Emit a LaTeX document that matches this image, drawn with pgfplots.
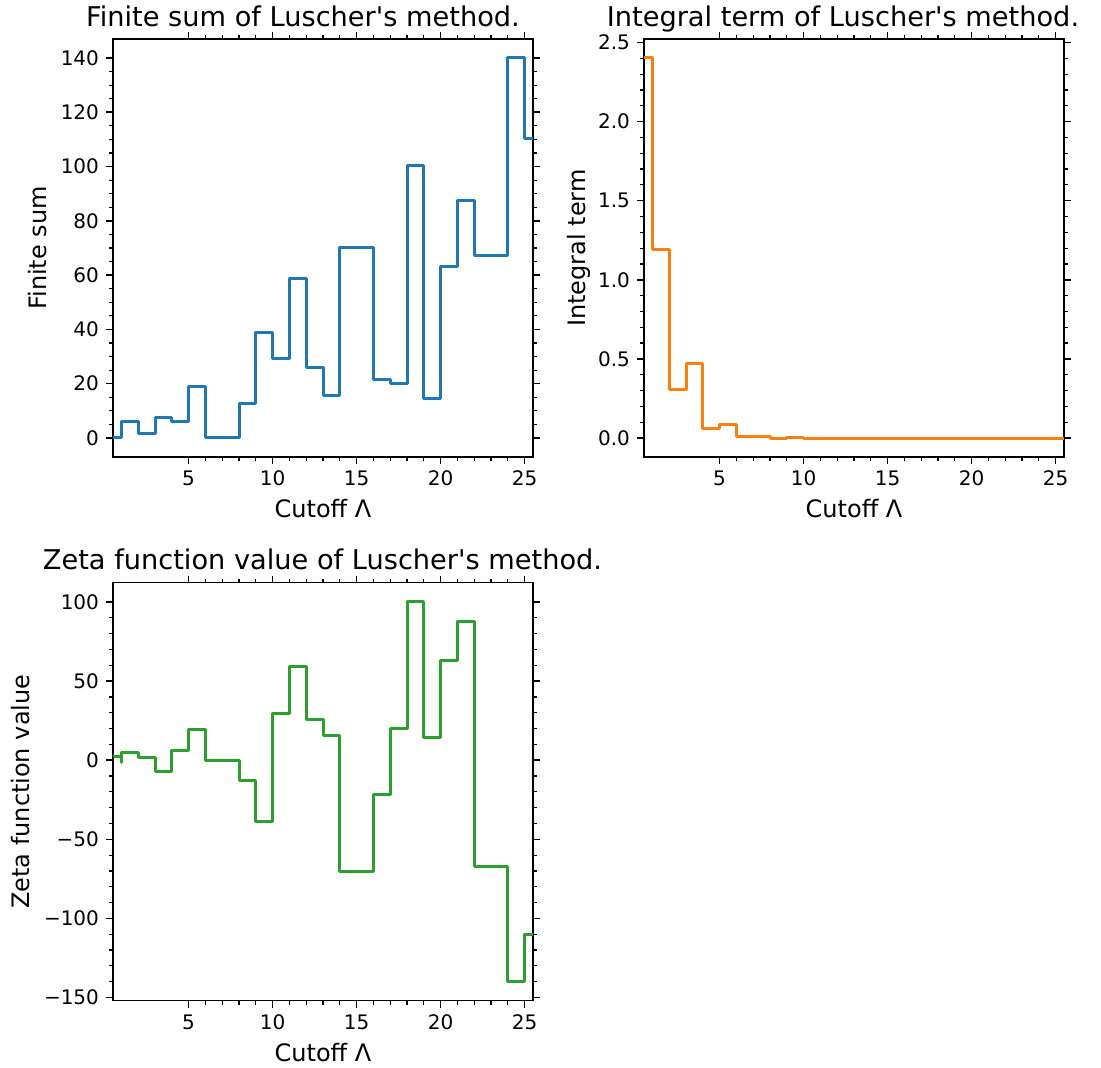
\documentclass[border=0pt]{standalone}
\usepackage{pgfplots}
\pgfplotsset{compat=1.18}
\usepackage{fontspec}
\setmainfont{DejaVu Sans}
\definecolor{cA}{HTML}{1F77B4}
\definecolor{cB}{HTML}{FF7F0E}
\definecolor{cC}{HTML}{2CA02C}
\pgfplotsset{
  lusch/.style={
    scale only axis, width=210pt, height=209pt,
    xmin=0.5, xmax=25.5,
    xtick={5,10,15,20,25}, minor x tick num=4,
    tick align=outside, tick pos=both,
    major tick length=3.5pt, minor tick length=2pt,
    every tick/.style={black, line width=0.8pt},
    minor tick style={line width=0.6pt},
    axis line style={line width=0.8pt},
    tick label style={font=\fontsize{10}{12}\selectfont},
    /pgf/number format/assume math mode=true,
    label style={font=\fontsize{12}{14}\selectfont},
    xlabel={Cutoff Λ},
    xlabel style={at={(axis description cs:0.5,0)}, anchor=base, yshift=-30.5pt},
    every axis plot/.append style={line width=1.5pt, line join=round, const plot mark left, mark=none},
  }
}
\begin{document}
\begin{tikzpicture}
\path[use as bounding box] (0,0) rectangle (550.5pt,534pt);

\begin{axis}[lusch, at={(56.5pt,305.5pt)}, anchor=south west,
  ymin=-7, ymax=147, ytick={0,20,...,140}, minor y tick num=3,
  ylabel={Finite sum},
  ylabel style={at={([xshift=-33pt]axis description cs:0,0.5)}, anchor=base}]
\addplot[cA] coordinates {
(0.5,0) (1,5.9) (2,1.8) (3,7.5) (4,6.0) (5,19.1) (6,0.1) (8,12.8) (9,38.9)
(10,29.4) (11,58.9) (12,25.9) (13,15.5) (14,70.3) (16,21.5) (17,20.1)
(18,100.4) (19,14.6) (20,63.2) (21,87.5) (22,67.4) (24,140.0) (25,110.3) (25.5,110.3)
};
\end{axis}

\begin{axis}[lusch, at={(322pt,305.5pt)}, anchor=south west,
  ymin=-0.12, ymax=2.522, ytick={0,0.5,1,1.5,2,2.5}, minor y tick num=4,
  yticklabel style={/pgf/number format/.cd, fixed, fixed zerofill, precision=1},
  ylabel={Integral term},
  ylabel style={at={([xshift=-29.5pt]axis description cs:0,0.5)}, anchor=base}]
\addplot[cB] coordinates {
(0.5,2.402) (1,1.189) (2,0.309) (3,0.469) (4,0.059) (5,0.084) (6,0.008)
(8,-0.003) (9,0.006) (10,0.0) (25.5,0.0)
};
\end{axis}

\begin{axis}[lusch, at={(56.5pt,33.65pt)}, anchor=south west,
  ymin=-152, ymax=112.2, ytick={-150,-100,-50,0,50,100},
  yticklabels={−150,−100,−50,0,50,100}, minor y tick num=4,
  ylabel={Zeta function value},
  ylabel style={at={([xshift=-41.5pt]axis description cs:0,0.5)}, anchor=base}]
\addplot[cC] coordinates {
(0.5,2.4) (0.98,-1.4) (1.03,4.9) (2,1.7) (3,-7.2) (4,6.1) (5,19.2) (6,-0.2)
(8,-12.9) (9,-39.0) (10,29.7) (11,59.0) (12,25.9) (13,15.6) (14,-70.3)
(16,-21.7) (17,20.2) (18,100.2) (19,14.4) (20,63.2) (21,87.4) (22,-67.1)
(24,-140.0) (25,-110.3) (25.5,-110.3)
};
\end{axis}

\node[anchor=base, font=\fontsize{13.6}{16}\selectfont] at (151.5pt,520.65pt) {Finite sum of Luscher\textquotesingle s method.};
\node[anchor=base, font=\fontsize{13.6}{16}\selectfont] at (421.5pt,520.65pt) {Integral term of Luscher\textquotesingle s method.};
\node[anchor=base, font=\fontsize{13.6}{16}\selectfont] at (161.25pt,249pt) {Zeta function value of Luscher\textquotesingle s method.};
\end{tikzpicture}
\end{document}
